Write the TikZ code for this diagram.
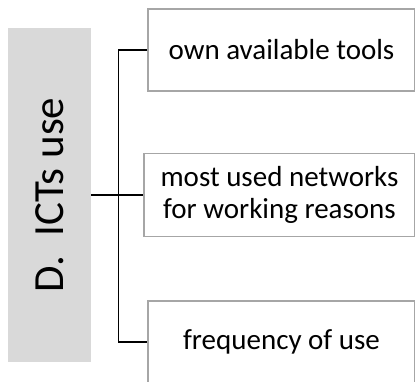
\documentclass[tikz,border=0pt]{standalone}
\usepackage{fontspec}
\setmainfont{Carlito}
\usepackage{graphicx}
\definecolor{panelgray}{HTML}{D9D9D9}
\definecolor{boxedge}{HTML}{A6A6A6}
\begin{document}
\begin{tikzpicture}[x=1pt,y=1pt,
  leafbox/.style={draw=boxedge, line width=1.5pt, fill=white, inner sep=0pt,
    minimum width=267pt, minimum height=82pt, align=center,
    font=\fontsize{29}{31.5}\selectfont},
  link/.style={draw=black, line width=1.4pt}]
  \useasboundingbox (0,0) rectangle (415,381);
  \fill[white] (0,0) rectangle (415,381);
  \begin{scope}
    \clip (0,0) rectangle (415,381);
    % vertical title panel
    \node[fill=panelgray, inner sep=0pt, minimum width=83pt, minimum height=334pt]
      (title) at (49.5,186) {\rotatebox{90}{\fontsize{43}{46}\selectfont D.\hspace{0.45em}ICTs use}};
    % three item boxes
    \node[leafbox] (tools) at (281.5,331) {own available tools};
    \node[leafbox, minimum width=271pt, minimum height=83pt] (networks) at (279.5,186)
      {most used networks\\for working reasons};
    \node[leafbox] (freq) at (281.5,39) {frequency of use};
    % bracket connecting the title to the items
    \draw[link] (title.east) -- (networks.west);
    \draw[link] (tools.west) -- ++(-29,0) |- (freq.west);
  \end{scope}
\end{tikzpicture}
\end{document}
